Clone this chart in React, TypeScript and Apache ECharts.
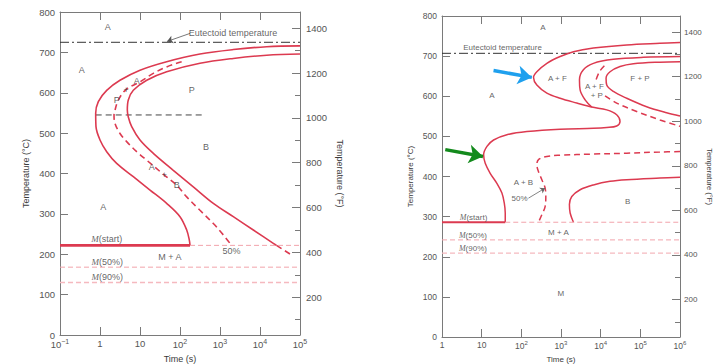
import React, { useEffect, useRef } from 'react';
import * as echarts from 'echarts';

type P = [number, number];

// ---------- Left diagram: eutectoid steel (time s, temperature °C) ----------
const leftTimeRange: P = [0.1, 100000];
const leftEutectoid = 725;
const leftMs = 222;
const leftM50 = 168;
const leftM90 = 130;
const leftMsEndTime = 178;
const leftNoseLine: P[] = [[0.78, 545], [383, 545]];
const leftStart: P[] = [[100000, 716], [14700, 714], [2150, 707], [316, 696], [46.4, 677], [10, 656], [3.16, 631], [1.47, 606], [0.908, 578], [0.78, 549], [0.794, 516], [1.0, 483], [1.47, 454], [2.61, 425], [6.8, 392], [17.8, 359], [46.4, 326], [100, 293], [147, 260], [171, 235], [178, 222]];
const leftHalf: P[] = [[110, 677], [46.4, 664], [21.5, 648], [10, 627], [4.47, 608], [2.87, 582], [2.37, 557], [2.24, 545], [2.37, 524], [3.16, 499], [4.64, 479], [8.26, 454], [14.7, 433], [40.6, 396], [82.6, 371], [147, 342], [316, 309], [681, 276], [1210, 248], [1778, 227]];
const leftEnd: P[] = [[100000, 696], [14700, 693], [2150, 685], [316, 673], [46.4, 652], [14.7, 631], [6.8, 606], [5.1, 582], [4.82, 557], [5.1, 540], [6.2, 516], [10, 483], [21.5, 450], [68, 408], [215, 367], [681, 326], [2150, 293], [6810, 260], [21500, 227], [25800, 222]];
const leftEndTail: P[] = [[25800, 222], [62000, 198]];
const leftLabels: [number, number, string][] = [
  [1.56, 763, 'A'], [0.349, 656, 'A'], [8.27, 629, 'A'], [4.47, 608, '+'], [2.62, 582, 'P'],
  [196, 608, 'P'], [447, 466, 'B'], [19.6, 417, 'A'], [40.5, 396, '+'], [82.7, 371, 'B'],
  [1.21, 318, 'A'], [1.47, 237, '{i|M}(start)'], [56.2, 192, 'M + A'], [1950, 209, '50%'],
  [1.51, 180, '{i|M}(50%)'], [1.51, 144, '{i|M}(90%)'], [2110, 748, 'Eutectoid temperature'],
];
const leftEutArrow: [P, P] = [[178, 747], [47.3, 727]];

// ---------- Right diagram: alloy steel ----------
const rightTimeRange: P = [1, 1000000];
const rightEutectoid = 707;
const rightMs = 286;
const rightM50 = 242;
const rightM90 = 209;
const rightMsEndTime = 39.3;
const rightStart: P[] = [[1e6, 734], [312600, 732], [45300, 728], [6560, 720], [2060, 711], [951, 699], [440, 682], [246, 661], [203, 647], [246, 628], [440, 608], [951, 595], [2500, 583], [5960, 573], [14220, 566], [25350, 554], [30760, 537], [25350, 526], [14220, 522], [6560, 520], [951, 518], [138, 512], [43.3, 504], [20, 491], [13.6, 475], [11.2, 454], [12.3, 433], [16.4, 408], [24.2, 383], [32.4, 359], [37.1, 334], [39.3, 309], [39.3, 286]];
const rightPearliteStart: P[] = [[1e6, 699], [119000, 697], [20900, 692], [6560, 682], [3670, 666], [2920, 641], [3030, 616], [4050, 591], [5960, 573]];
const rightFP50a: P[] = [[12400, 676], [9290, 661], [7660, 641]];
const rightFP50b: P[] = [[12900, 601], [25350, 583], [80900, 562], [312600, 541], [1e6, 525]];
const rightFPEnd: P[] = [[1e6, 686], [312600, 685], [66700, 681], [30760, 674], [17260, 661], [13680, 645], [14220, 628], [20900, 612], [45300, 595], [144200, 574], [460300, 559], [1e6, 551]];
const rightB50: P[] = [[1e6, 462], [312600, 461], [45300, 458], [6560, 456], [951, 453], [440, 450], [271, 442], [246, 429], [271, 412], [329, 392], [398, 371], [414, 350], [398, 325], [329, 305], [271, 286]];
const rightBEnd: P[] = [[1e6, 398], [312600, 396], [45300, 392], [17260, 388], [6560, 379], [3030, 367], [1870, 350], [1630, 330], [1700, 309], [2060, 286]];
const rightLabels: [number, number, string][] = [
  [349, 772, 'A'], [18.2, 601, 'A'], [813, 644, 'A + F'], [98200, 644, 'F + P'],
  [6950, 624, 'A + F'], [7980, 603, '+ P'], [113, 386, 'A + B'], [90, 346, '50%'],
  [48200, 338, 'B'], [6.25, 299, '{i|M}(start)'], [863, 261, 'M + A'],
  [6.03, 254, '{i|M}(50%)'], [6.03, 220, '{i|M}(90%)'], [991, 108, 'M'],
  [33.6, 722, 'Eutectoid temperature'],
];
const blueArrow: [P, P] = [[19.9, 664], [184, 647]];
const greenArrow: [P, P] = [[1.21, 467], [10.8, 450]];
const halfArrow: [P, P] = [[151, 346], [398, 371]];

// Axis tick values
const cTicks = { min: 0, max: 800, interval: 100 };
const fRange: P = [32, 1472];
const fLabelValues = [200, 400, 600, 800, 1000, 1200, 1400];
const fMinorValues = [100, 300, 500, 700, 900, 1100, 1300];

const RED = '#dc3a50';
const PINK = '#f2a3ab';
const PINK2 = '#f5b9bf';
const AXIS = '#7a7a7a';
const TXT = '#3a3a3a';
const FONT = 'Liberation Sans, Arial, sans-serif';

function logFmt(v: number) {
  const e = Math.round(Math.log10(v));
  if (e === 0) return '1';
  if (e === 1) return '10';
  return '10{s|' + (e < 0 ? '\u2212' + -e : e) + '}';
}

export default function App() {
  const ref = useRef<HTMLDivElement>(null);
  useEffect(() => {
    if (!ref.current) return;
    const chart = echarts.init(ref.current, undefined, { renderer: 'svg' });

    const xAxes: any[] = [];
    const yAxes: any[] = [];
    const grids: any[] = [
      { left: 60, top: 12, width: 240, height: 323, outerBoundsMode: 'none', containLabel: false },
      { left: 442, top: 16, width: 238, height: 321, outerBoundsMode: 'none', containLabel: false },
    ];

    const mkX = (gi: number, range: P, fs: number, pos: 'bottom' | 'top') => ({
      type: 'log', logBase: 10, gridIndex: gi, min: range[0], max: range[1], splitNumber: 6,
      position: pos,
      name: pos === 'bottom' ? 'Time (s)' : '', nameLocation: 'middle', nameGap: 16,
      nameTextStyle: { fontSize: fs, color: TXT, fontFamily: FONT },
      axisLine: { show: true, lineStyle: { color: AXIS, width: 1 } },
      axisTick: { show: true, inside: true, length: 8, lineStyle: { color: AXIS } },
      axisLabel: {
        show: pos === 'bottom', formatter: logFmt, fontSize: fs + 0.5, color: '#555', fontFamily: FONT, margin: 3,
        rich: { s: { fontSize: fs - 2, color: '#555', fontFamily: FONT, padding: [0, 0, 6, 0] } },
      },
      splitLine: { show: false }, minorTick: { show: false },
    });
    const mkC = (gi: number, fs: number, gap: number) => ({
      type: 'value', gridIndex: gi, ...cTicks, position: 'left',
      name: 'Temperature (\u00b0C)', nameLocation: 'middle', nameGap: gap, nameRotate: 90,
      nameTextStyle: { fontSize: fs, color: TXT, fontFamily: FONT },
      axisLine: { show: true, lineStyle: { color: AXIS } },
      axisTick: { show: true, inside: true, length: 8, lineStyle: { color: AXIS } },
      axisLabel: { fontSize: fs + 0.5, color: '#555', fontFamily: FONT, margin: 5 },
      splitLine: { show: false },
    });
    const mkF = (gi: number, fs: number, gap: number, margin: number) => ({
      type: 'value', gridIndex: gi, min: fRange[0], max: fRange[1], position: 'right',
      name: 'Temperature (\u00b0F)', nameLocation: 'middle', nameGap: gap, nameRotate: -90,
      nameTextStyle: { fontSize: fs, color: TXT, fontFamily: FONT },
      axisLine: { show: true, lineStyle: { color: AXIS } },
      axisTick: { show: true, inside: true, length: 8, customValues: fLabelValues, lineStyle: { color: AXIS } },
      axisLabel: {
        customValues: fLabelValues, formatter: (v: number) => String(Math.round(v)),
        fontSize: fs + 0.5, color: '#555', fontFamily: FONT, margin,
      },
      splitLine: { show: false },
    });
    const mkFMinor = (gi: number) => ({
      type: 'value', gridIndex: gi, min: fRange[0], max: fRange[1], position: 'right',
      axisLine: { show: false },
      axisTick: { show: true, inside: true, length: 5, customValues: fMinorValues, lineStyle: { color: AXIS } },
      axisLabel: { show: false }, splitLine: { show: false },
    });

    xAxes.push(mkX(0, leftTimeRange, 9, 'bottom'), mkX(0, leftTimeRange, 9, 'top'));
    xAxes.push(mkX(1, rightTimeRange, 8, 'bottom'), mkX(1, rightTimeRange, 8, 'top'));
    yAxes.push(mkC(0, 9, 30), mkF(0, 9, 35, 6), mkFMinor(0));
    yAxes.push(mkC(1, 8, 28), mkF(1, 7.5, 22, 4), mkFMinor(1));

    const line = (data: P[], xi: number, yi: number, color: string, width: number, type: any = 'solid', smooth: any = 0.35) => ({
      type: 'line', data, xAxisIndex: xi, yAxisIndex: yi, showSymbol: false, symbol: 'none',
      smooth, silent: true, lineStyle: { color, width, type }, z: 3,
    });
    const hline = (t0: number, t1: number, T: number, xi: number, yi: number, color: string, width: number, type: any) =>
      line([[t0, T], [t1, T]], xi, yi, color, width, type, false);

    const labelSeries = (data: [number, number, string][], xi: number, yi: number, fs: number, marks: any[]) => ({
      type: 'scatter', data, xAxisIndex: xi, yAxisIndex: yi, symbolSize: 1, silent: true, z: 5,
      itemStyle: { color: 'rgba(0,0,0,0)' },
      label: {
        show: true, position: 'inside', formatter: (p: any) => p.data[2], fontSize: fs, color: TXT, fontFamily: FONT,
        rich: { i: { fontStyle: 'italic', fontSize: fs, color: TXT, fontFamily: 'Liberation Serif, Times New Roman, serif' } },
      },
      markLine: { silent: true, animation: false, label: { show: false }, data: marks },
    });
    const arrow = (a: [P, P], color: string, width: number, size: number, curveness = 0) => ([
      { coord: a[0], symbol: 'none', lineStyle: { color, width, type: 'solid', curveness } },
      { coord: a[1], symbol: 'arrow', symbolSize: size },
    ]);

    const DASH = [6, 4];
    const PDASH = [5, 3];
    const EDASH = [9, 3, 2, 3];

    const series: any[] = [
      // left diagram
      hline(leftTimeRange[0], leftTimeRange[1], leftEutectoid, 0, 0, '#333', 1, EDASH),
      line(leftNoseLine, 0, 0, '#444', 1, DASH, false),
      line(leftStart, 0, 0, RED, 1.6),
      line(leftHalf, 0, 0, RED, 1.6, DASH),
      line(leftEnd, 0, 0, RED, 1.6),
      line(leftEndTail, 0, 0, RED, 1.6, DASH, false),
      hline(leftTimeRange[0], leftMsEndTime, leftMs, 0, 0, RED, 2.6, 'solid'),
      hline(leftMsEndTime, leftTimeRange[1], leftMs, 0, 0, PINK, 1, PDASH),
      hline(leftTimeRange[0], leftTimeRange[1], leftM50, 0, 0, PINK, 1, PDASH),
      hline(leftTimeRange[0], leftTimeRange[1], leftM90, 0, 0, PINK2, 1.4, PDASH),
      labelSeries(leftLabels, 0, 0, 9, [arrow(leftEutArrow, '#555', 0.8, 6, 0.25)]),
      // right diagram
      hline(rightTimeRange[0], rightTimeRange[1], rightEutectoid, 2, 3, '#333', 1, EDASH),
      line(rightStart, 2, 3, RED, 1.5),
      line(rightPearliteStart, 2, 3, RED, 1.5),
      line(rightFP50a, 2, 3, RED, 1.5, DASH),
      line(rightFP50b, 2, 3, RED, 1.5, DASH),
      line(rightFPEnd, 2, 3, RED, 1.5),
      line(rightB50, 2, 3, RED, 1.5, DASH),
      line(rightBEnd, 2, 3, RED, 1.5),
      hline(rightTimeRange[0], rightMsEndTime, rightMs, 2, 3, RED, 2, 'solid'),
      hline(rightMsEndTime, rightTimeRange[1], rightMs, 2, 3, PINK, 1, PDASH),
      hline(rightTimeRange[0], rightTimeRange[1], rightM50, 2, 3, PINK, 1, PDASH),
      hline(rightTimeRange[0], rightTimeRange[1], rightM90, 2, 3, PINK2, 1.4, PDASH),
      labelSeries(rightLabels, 2, 3, 8, [
        arrow(blueArrow, '#1fa0ee', 3.5, 14),
        arrow(greenArrow, '#138a1c', 3.5, 14),
        arrow(halfArrow, '#666', 0.8, 5),
      ]),
    ];

    chart.setOption({
      animation: false,
      backgroundColor: '#ffffff',
      textStyle: { fontFamily: FONT },
      grid: grids,
      xAxis: xAxes,
      yAxis: yAxes,
      series,
    });
    return () => chart.dispose();
  }, []);

  return <div ref={ref} style={{ position: 'absolute', left: 0, top: 0, width: 713, height: 364 }} />;
}
